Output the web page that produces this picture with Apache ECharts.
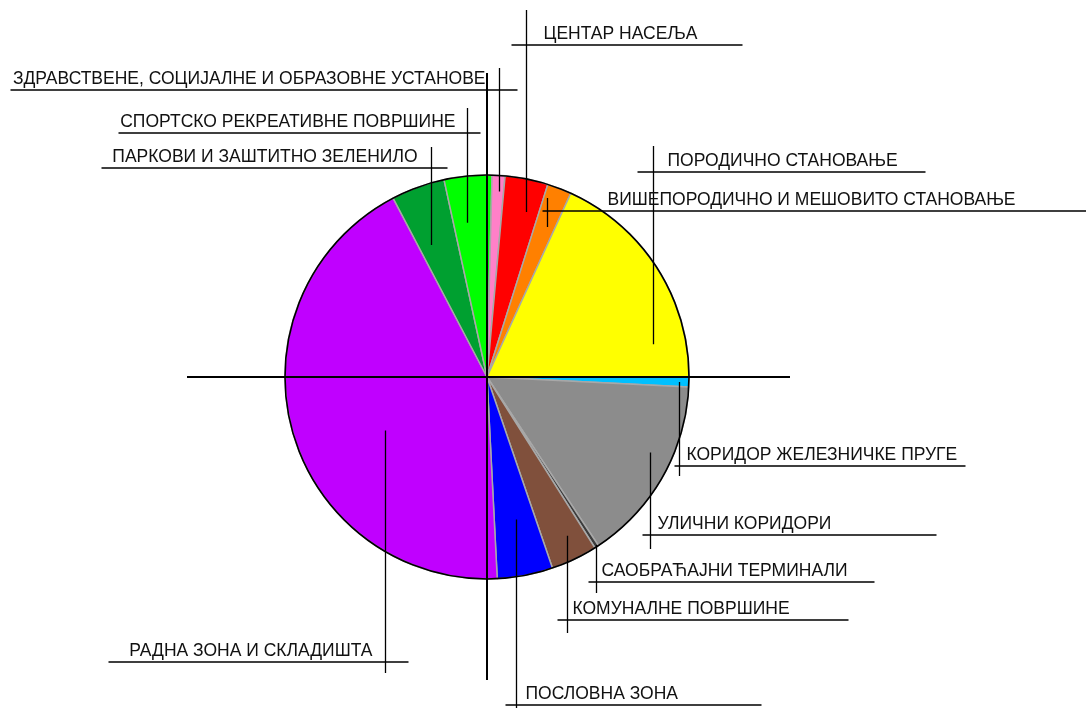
<!DOCTYPE html>
<html><head><meta charset="utf-8">
<script src="https://cdn.jsdelivr.net/npm/echarts@6/dist/echarts.min.js"></script>
<style>html,body{margin:0;padding:0;background:#fff}#c{width:1086px;height:708px}</style>
</head><body><div id="c"></div>
<script>
// ---- data ----
const categories = [
  'КОРИДОР ЖЕЛЕЗНИЧКЕ ПРУГЕ',
  'УЛИЧНИ КОРИДОРИ',
  'САОБРАЋАЈНИ ТЕРМИНАЛИ',
  'КОМУНАЛНЕ ПОВРШИНЕ',
  'ПОСЛОВНА ЗОНА',
  'РАДНА ЗОНА И СКЛАДИШТА',
  'ПАРКОВИ И ЗАШТИТНО ЗЕЛЕНИЛО',
  'СПОРТСКО РЕКРЕАТИВНЕ ПОВРШИНЕ',
  'ЗДРАВСТВЕНЕ, СОЦИЈАЛНЕ И ОБРАЗОВНЕ УСТАНОВЕ',
  'ЦЕНТАР НАСЕЉА',
  'ВИШЕПОРОДИЧНО И МЕШОВИТО СТАНОВАЊЕ',
  'ПОРОДИЧНО СТАНОВАЊЕ'
];
const shares = [0.78, 14.92, 0.33, 3.72, 4.44, 43.11, 4.28, 3.81, 1.03, 3.44, 1.94, 18.19];
const colors = ['#00c0ff', '#8c8c8c', '#3c3c3c', '#80503c', '#0000ff', '#c000ff',
                '#00a030', '#00ff00', '#ff80c8', '#ff0000', '#ff8000', '#ffff00'];

// ---- layout / style (not data) ----
const CX = 487, CY = 377, R = 202;
// t: position across slice angle, rf: radius fraction of leader start,
// uy: underline y, ey: far end of vertical leader, side: text side, off: text gap,
// uL/uR: underline extents left/right of leader
const LBL = [
  {t: .54, rf: .95, uy: 466, ey: 476, side: 'r', off: 7,  uL: 5,   uR: 286},
  {t: .41, rf: .89, uy: 535, ey: 549, side: 'r', off: 7,  uL: 8,   uR: 286},
  {t: .50, rf: .99, uy: 582, ey: 593, side: 'r', off: 5,  uL: 8,   uR: 278},
  {t: .42, rf: .88, uy: 620, ey: 633, side: 'r', off: 5,  uL: 10,  uR: 281},
  {t: .46, rf: .72, uy: 705, ey: 712, side: 'r', off: 9,  uL: 11,  uR: 245},
  {t: .42, rf: .57, uy: 662, ey: 673, side: 'l', off: 13, uL: 277, uR: 23},
  {t: .31, rf: .71, uy: 168, ey: 147, side: 'l', off: 14, uL: 330, uR: 16},
  {t: .36, rf: .77, uy: 133, ey: 108, side: 'l', off: 12, uL: 349, uR: 13},
  {t: .62, rf: .92, uy: 90,  ey: 68,  side: 'l', off: 14, uL: 489, uR: 18},
  {t: .66, rf: .84, uy: 45,  ey: 10,  side: 'r', off: 17, uL: 15,  uR: 216},
  {t: .61, rf: .80, uy: 211, ey: 198, side: 'r', off: 60, uL: 5,   uR: 560},
  {t: .83, rf: .84, uy: 172, ey: 146, side: 'r', off: 14, uL: 16,  uR: 272}
];

const chart = echarts.init(document.getElementById('c'), null, {renderer: 'canvas'});

function sliceLayout(i) {
  try {
    const d = chart.getModel().getSeriesByIndex(1).getData();
    const l = d.getItemLayout(i);
    if (l && l.startAngle != null) return l;
  } catch (e) {}
  const total = shares.reduce((a, b) => a + b, 0);
  let s = 0; for (let k = 0; k < i; k++) s += shares[k];
  return {cx: CX, cy: CY, r: R,
          startAngle: s / total * Math.PI * 2,
          endAngle: (s + shares[i]) / total * Math.PI * 2};
}

const common = {
  type: 'pie',
  center: [CX, CY],
  radius: R,
  startAngle: 0,
  clockwise: true,
  avoidLabelOverlap: false,
  minShowLabelAngle: 0,
  silent: true,
  emphasis: {disabled: true, scale: false}
};

const option = {
  backgroundColor: '#fff',
  animation: false,
  series: [
    Object.assign({}, common, {
      z: 2,
      itemStyle: {borderColor: '#a8a8a8', borderWidth: 1.5},
      label: {show: false},
      labelLine: {show: false},
      data: categories.map((n, i) => ({name: n, value: shares[i], itemStyle: {color: colors[i]}}))
    }),
    Object.assign({}, common, {
      z: 5,
      itemStyle: {color: 'rgba(0,0,0,0)', borderWidth: 0},
      label: {
        show: true, position: 'outside', overflow: 'none',
        color: '#111', fontFamily: 'Liberation Sans', fontSize: 17.5,
        formatter: '{b}'
      },
      labelLine: {show: true, length: 5, length2: 5, smooth: false,
                  lineStyle: {color: '#000', width: 1.3}},
      labelLayout: function (p) {
        const i = p.dataIndex, c = LBL[i];
        const l = sliceLayout(i);
        const a = l.startAngle + c.t * (l.endAngle - l.startAngle);
        const lx = Math.round(l.cx + c.rf * l.r * Math.cos(a)) + 0.5;
        const iy = l.cy + c.rf * l.r * Math.sin(a);
        const pts = [[lx, iy], [lx, c.ey], [lx, c.uy], [lx - c.uL, c.uy], [lx + c.uR, c.uy]];
        return {
          x: c.side === 'r' ? lx + c.off : lx - c.off,
          y: c.uy - 11,
          align: c.side === 'r' ? 'left' : 'right',
          verticalAlign: 'middle',
          labelLinePoints: pts
        };
      },
      data: categories.map((n, i) => ({name: n, value: shares[i]}))
    })
  ],
  graphic: [
    {type: 'circle', z: 100, silent: true, shape: {cx: CX, cy: CY, r: R},
     style: {fill: null, stroke: '#000', lineWidth: 1.6}},
    {type: 'line', z: 100, silent: true, shape: {x1: CX - 300, y1: CY, x2: CX + 303, y2: CY},
     style: {stroke: '#000', lineWidth: 2}},
    {type: 'line', z: 100, silent: true, shape: {x1: CX, y1: CY - 304, x2: CX, y2: CY + 303},
     style: {stroke: '#000', lineWidth: 2}}
  ]
};
chart.setOption(option);
</script>
</body></html>
